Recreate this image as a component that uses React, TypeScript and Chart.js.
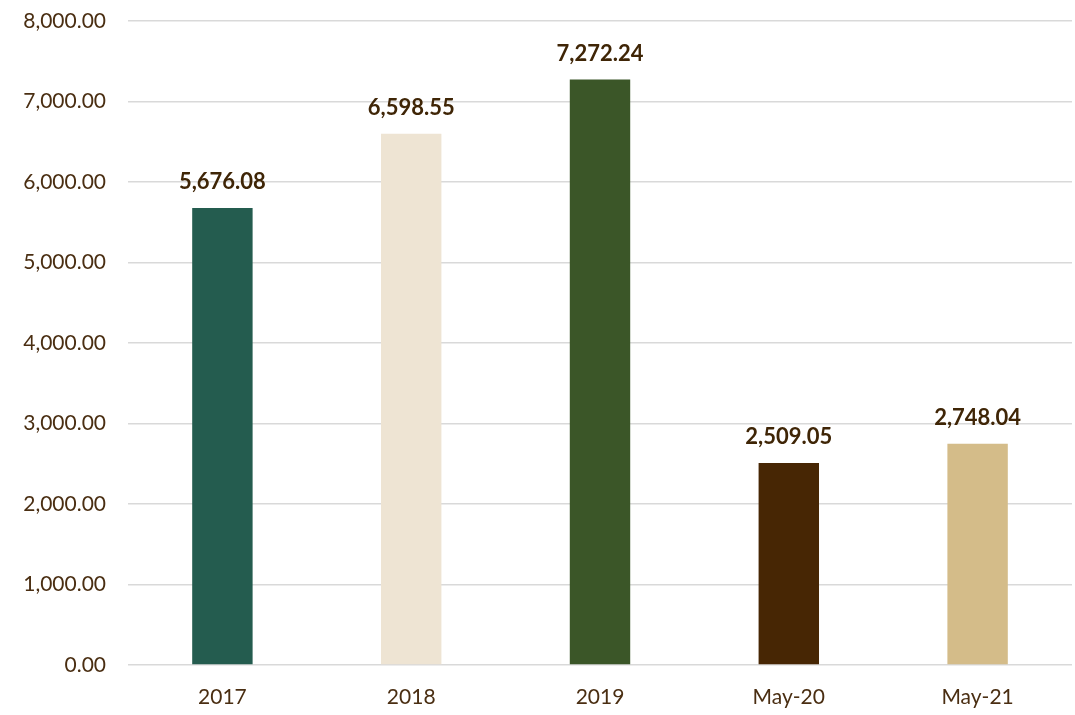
import React, { useEffect, useRef } from "react";
import { Chart, registerables } from "chart.js";

Chart.register(...registerables);

const categories = ["2017", "2018", "2019", "May-20", "May-21"];
const values = [5676.08, 6598.55, 7272.24, 2509.05, 2748.04];
const barColors = ["#245C4F", "#EEE4D3", "#3B5628", "#472604", "#D4BC89"];
const yMin = 0;
const yMax = 8000;
const yStep = 1000;

const fmt = (v: number) =>
  v.toLocaleString("en-US", { minimumFractionDigits: 2, maximumFractionDigits: 2 });

const labelPlugin = {
  id: "barLabels",
  afterDatasetsDraw(chart: any) {
    const ctx = chart.ctx;
    const meta = chart.getDatasetMeta(0);
    ctx.save();
    ctx.font = "bold 22px Lato";
    ctx.fillStyle = "#3F2506";
    ctx.textAlign = "center";
    ctx.textBaseline = "middle";
    meta.data.forEach((el: any, i: number) => {
      ctx.fillText(fmt(values[i]), el.x, el.y - 26);
    });
    ctx.restore();
  },
};

export default function App() {
  const ref = useRef<HTMLCanvasElement>(null);
  useEffect(() => {
    const chart = new Chart(ref.current!, {
      type: "bar",
      data: {
        labels: categories,
        datasets: [
          {
            data: values,
            backgroundColor: barColors,
            categoryPercentage: 1,
            barPercentage: 0.32,
          },
        ],
      },
      options: {
        animation: false,
        responsive: true,
        maintainAspectRatio: false,
        layout: { padding: { top: 21, right: 3, left: 0, bottom: 0 } },
        plugins: { legend: { display: false }, tooltip: { enabled: false } },
        scales: {
          x: {
            grid: { display: false, drawTicks: false },
            border: { display: false },
            ticks: { color: "#4A2E12", font: { family: "Lato", size: 21 }, padding: 20 },
            afterFit(scale: any) {
              scale.height = 50;
              scale.paddingLeft = 0;
              scale.paddingRight = 0;
            },
          },
          y: {
            min: yMin,
            max: yMax,
            ticks: {
              stepSize: yStep,
              color: "#4A2E12",
              font: { family: "Lato", size: 21 },
              padding: 22,
              callback: (v: any) => fmt(Number(v)),
            },
            grid: { color: "#D9D9D9", lineWidth: 1.5, drawTicks: false },
            border: { display: false },
            afterFit(scale: any) {
              scale.width = 128;
              scale.paddingTop = 0;
              scale.paddingBottom = 0;
            },
          },
        },
      },
      plugins: [labelPlugin],
    });
    return () => chart.destroy();
  }, []);
  return (
    <div style={{ position: "fixed", left: 0, top: 0, width: 1075, height: 715, background: "#fff" }}>
      <canvas ref={ref} />
    </div>
  );
}
